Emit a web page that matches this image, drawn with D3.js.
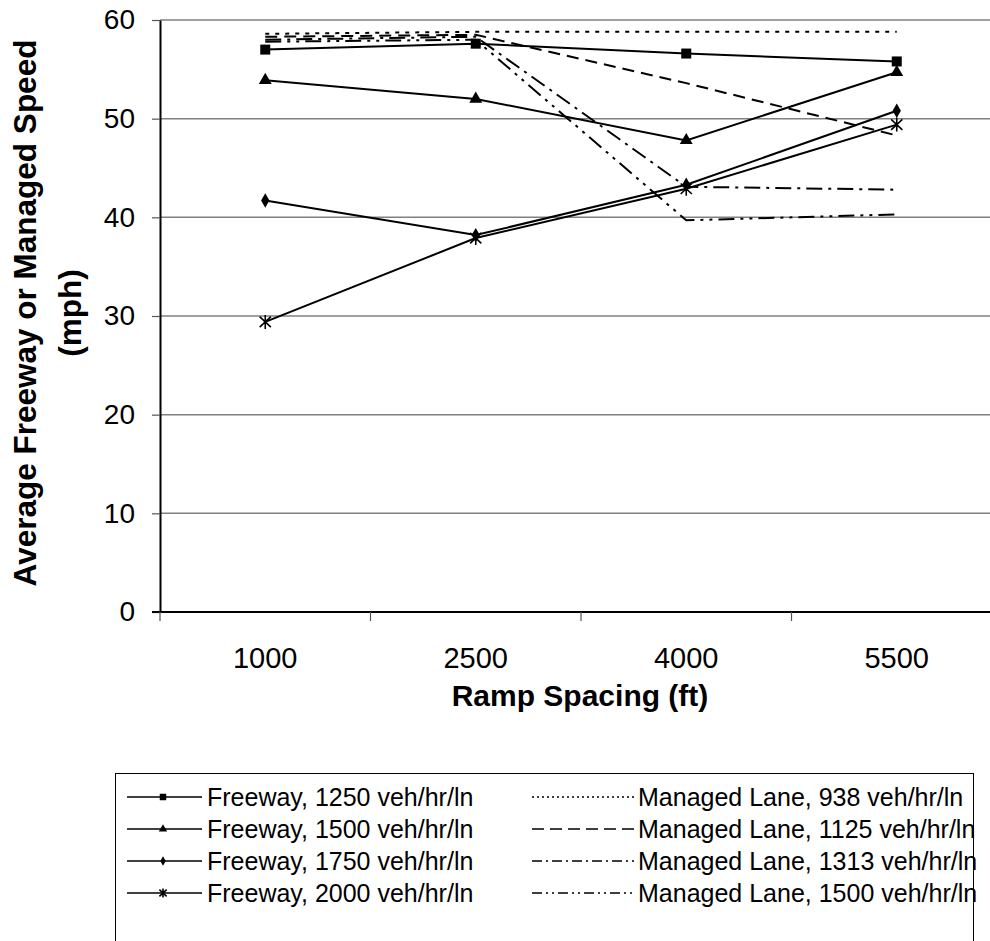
<html>
<head>
<meta charset="utf-8">
<script src="https://cdn.jsdelivr.net/npm/d3@7/dist/d3.min.js"></script>
<style>
	body { margin: 0; background: #fff; }
	svg { display: block; font-family: 'Liberation Sans', Arial, sans-serif; }
</style>
</head>
<body>
<svg id="chart" width="990" height="941"></svg>
<script>
	// values
	var categories = ['1000', '2500', '4000', '5500'];
	var yTicks = [0, 10, 20, 30, 40, 50, 60];

	var fw1250 = [57.0, 57.6, 56.6, 55.8];
	var fw1500 = [53.9, 52.0, 47.8, 54.7];
	var fw1750 = [41.7, 38.2, 43.3, 50.8];
	var fw2000 = [29.4, 37.9, 42.9, 49.4];

	var ml938 = [58.6, 58.8, 58.8, 58.8];
	var ml1125 = [58.3, 58.5, 53.6, 48.3];
	var ml1313 = [58.0, 58.3, 43.1, 42.8];
	var ml1500 = [57.8, 58.0, 39.7, 40.3];

	var series = [
		{ name: 'Freeway, 1250 veh/hr/ln', values: fw1250, marker: 'square', dash: null },
		{ name: 'Freeway, 1500 veh/hr/ln', values: fw1500, marker: 'triangle', dash: null },
		{ name: 'Freeway, 1750 veh/hr/ln', values: fw1750, marker: 'diamond', dash: null },
		{ name: 'Freeway, 2000 veh/hr/ln', values: fw2000, marker: 'star', dash: null },
		{ name: 'Managed Lane, 938 veh/hr/ln', values: ml938, marker: null, dash: '4,6', legendDash: '2,3' },
		{ name: 'Managed Lane, 1125 veh/hr/ln', values: ml1125, marker: null, dash: '12,7', legendDash: '12,6' },
		{ name: 'Managed Lane, 1313 veh/hr/ln', values: ml1313, marker: null, dash: '16,6,3,6', legendDash: '10,4,2,4' },
		{ name: 'Managed Lane, 1500 veh/hr/ln', values: ml1500, marker: null, dash: '16,6,3,6,3,6', legendDash: '10,4,2,4,2,4' }
	];

	var plotLeft = 160, plotTop = 20, plotBottom = 612, plotRight = 1002;

	var svg = d3.select('#chart');

	var x = d3.scaleBand().domain(categories).range([plotLeft, plotRight]).padding(0);
	var y = d3.scaleLinear().domain([0, 60]).range([plotBottom, plotTop]);
	var cx = function(c){ return x(c) + x.bandwidth() / 2; };

	// gridlines
	svg.append('g')
		.selectAll('line')
		.data(yTicks.filter(function(d){ return d > 0; }))
		.enter()
		.append('line')
		.attr('x1', plotLeft).attr('x2', 990)
		.attr('y1', function(d){ return y(d); })
		.attr('y2', function(d){ return y(d); })
		.attr('stroke', '#808080')
		.attr('stroke-width', 1.5);

	// y axis
	var yAxis = svg.append('g')
		.attr('transform', 'translate(' + plotLeft + ',0)')
		.call(d3.axisLeft(y).tickValues(yTicks).tickSize(8).tickSizeOuter(0).tickPadding(17));
	yAxis.select('.domain').attr('stroke', '#000').attr('stroke-width', 2);
	yAxis.selectAll('.tick line').attr('stroke', '#555').attr('stroke-width', 1.2);
	yAxis.selectAll('.tick text')
		.attr('font-size', 28)
		.attr('font-family', "'Liberation Sans', Arial, sans-serif")
		.attr('fill', '#000');

	// x axis: labels in band centres, ticks on band edges
	svg.append('line')
		.attr('x1', plotLeft - 8).attr('x2', 990)
		.attr('y1', plotBottom).attr('y2', plotBottom)
		.attr('stroke', '#000').attr('stroke-width', 2);

	svg.append('g')
		.selectAll('line')
		.data(categories)
		.enter()
		.append('line')
		.attr('x1', function(d){ return x(d); })
		.attr('x2', function(d){ return x(d); })
		.attr('y1', plotBottom).attr('y2', plotBottom + 9)
		.attr('stroke', '#555').attr('stroke-width', 1.2);

	svg.append('g')
		.selectAll('text')
		.data(categories)
		.enter()
		.append('text')
		.attr('x', cx)
		.attr('y', 668)
		.attr('text-anchor', 'middle')
		.attr('font-size', 29)
		.text(function(d){ return d; });

	// axis titles
	svg.append('text')
		.attr('x', 580).attr('y', 706)
		.attr('text-anchor', 'middle')
		.attr('font-size', 30)
		.attr('font-weight', 'bold')
		.text('Ramp Spacing (ft)');

	var yTitle = svg.append('text')
		.attr('transform', 'translate(0,313) rotate(-90)')
		.attr('text-anchor', 'middle')
		.attr('font-size', 31.5)
		.attr('font-weight', 'bold');
	yTitle.append('tspan').attr('x', 0).attr('y', 36).text('Average Freeway or Managed Speed');
	yTitle.append('tspan').attr('x', 0).attr('y', 81).text('(mph)');

	// series lines
	var line = d3.line()
		.x(function(d, i){ return cx(categories[i]); })
		.y(function(d){ return y(d); });

	var plot = svg.append('g');

	// managed lanes first, freeway on top
	series.slice().reverse().forEach(function(s){
		plot.append('path')
			.datum(s.values)
			.attr('d', line)
			.attr('fill', 'none')
			.attr('stroke', '#000')
			.attr('stroke-width', 2)
			.attr('stroke-dasharray', s.dash);
	});

	// k scales the marker: 1 in the plot, smaller in the legend
	function drawMarker(g, type, px, py, k) {
		if (type === 'star') {
			var r = 7 * k;
			g.append('path')
				.attr('d', 'M' + px + ',' + (py - r) + 'V' + (py + r) +
					'M' + (px - r * 0.8) + ',' + (py - r * 0.75) + 'L' + (px + r * 0.8) + ',' + (py + r * 0.75) +
					'M' + (px + r * 0.8) + ',' + (py - r * 0.75) + 'L' + (px - r * 0.8) + ',' + (py + r * 0.75))
				.attr('stroke', '#000').attr('stroke-width', 1.6).attr('fill', 'none');
			return;
		}
		var sym = { square: d3.symbolSquare, triangle: d3.symbolTriangle, diamond: d3.symbolDiamond }[type];
		var area = { square: 100, triangle: 72, diamond: 60 }[type] * k * k;
		g.append('path')
			.attr('transform', 'translate(' + px + ',' + py + ')')
			.attr('d', d3.symbol().type(sym).size(area)())
			.attr('fill', '#000');
	}

	series.forEach(function(s){
		if (!s.marker) return;
		s.values.forEach(function(v, i){
			drawMarker(plot, s.marker, cx(categories[i]), y(v), 1);
		});
	});

	// legend
	var legend = svg.append('g');
	legend.append('rect')
		.attr('x', 115.5).attr('y', 773.5)
		.attr('width', 858).attr('height', 220)
		.attr('fill', 'none')
		.attr('stroke', '#000').attr('stroke-width', 1);

	series.forEach(function(s, i){
		var col = i < 4 ? 0 : 1;
		var row = i % 4;
		var ly = 797 + row * 32;
		var x0 = col === 0 ? 127 : 532;
		var x1 = col === 0 ? 202 : 634;
		legend.append('line')
			.attr('x1', x0).attr('x2', x1)
			.attr('y1', ly).attr('y2', ly)
			.attr('stroke', '#000')
			.attr('stroke-width', 1.3)
			.attr('stroke-dasharray', s.legendDash || null);
		if (s.marker) drawMarker(legend, s.marker, 163, ly, 0.65);
		legend.append('text')
			.attr('x', col === 0 ? 207 : 638)
			.attr('y', ly + 9)
			.attr('font-size', 25)
			.text(s.name);
	});
</script>
</body>
</html>
